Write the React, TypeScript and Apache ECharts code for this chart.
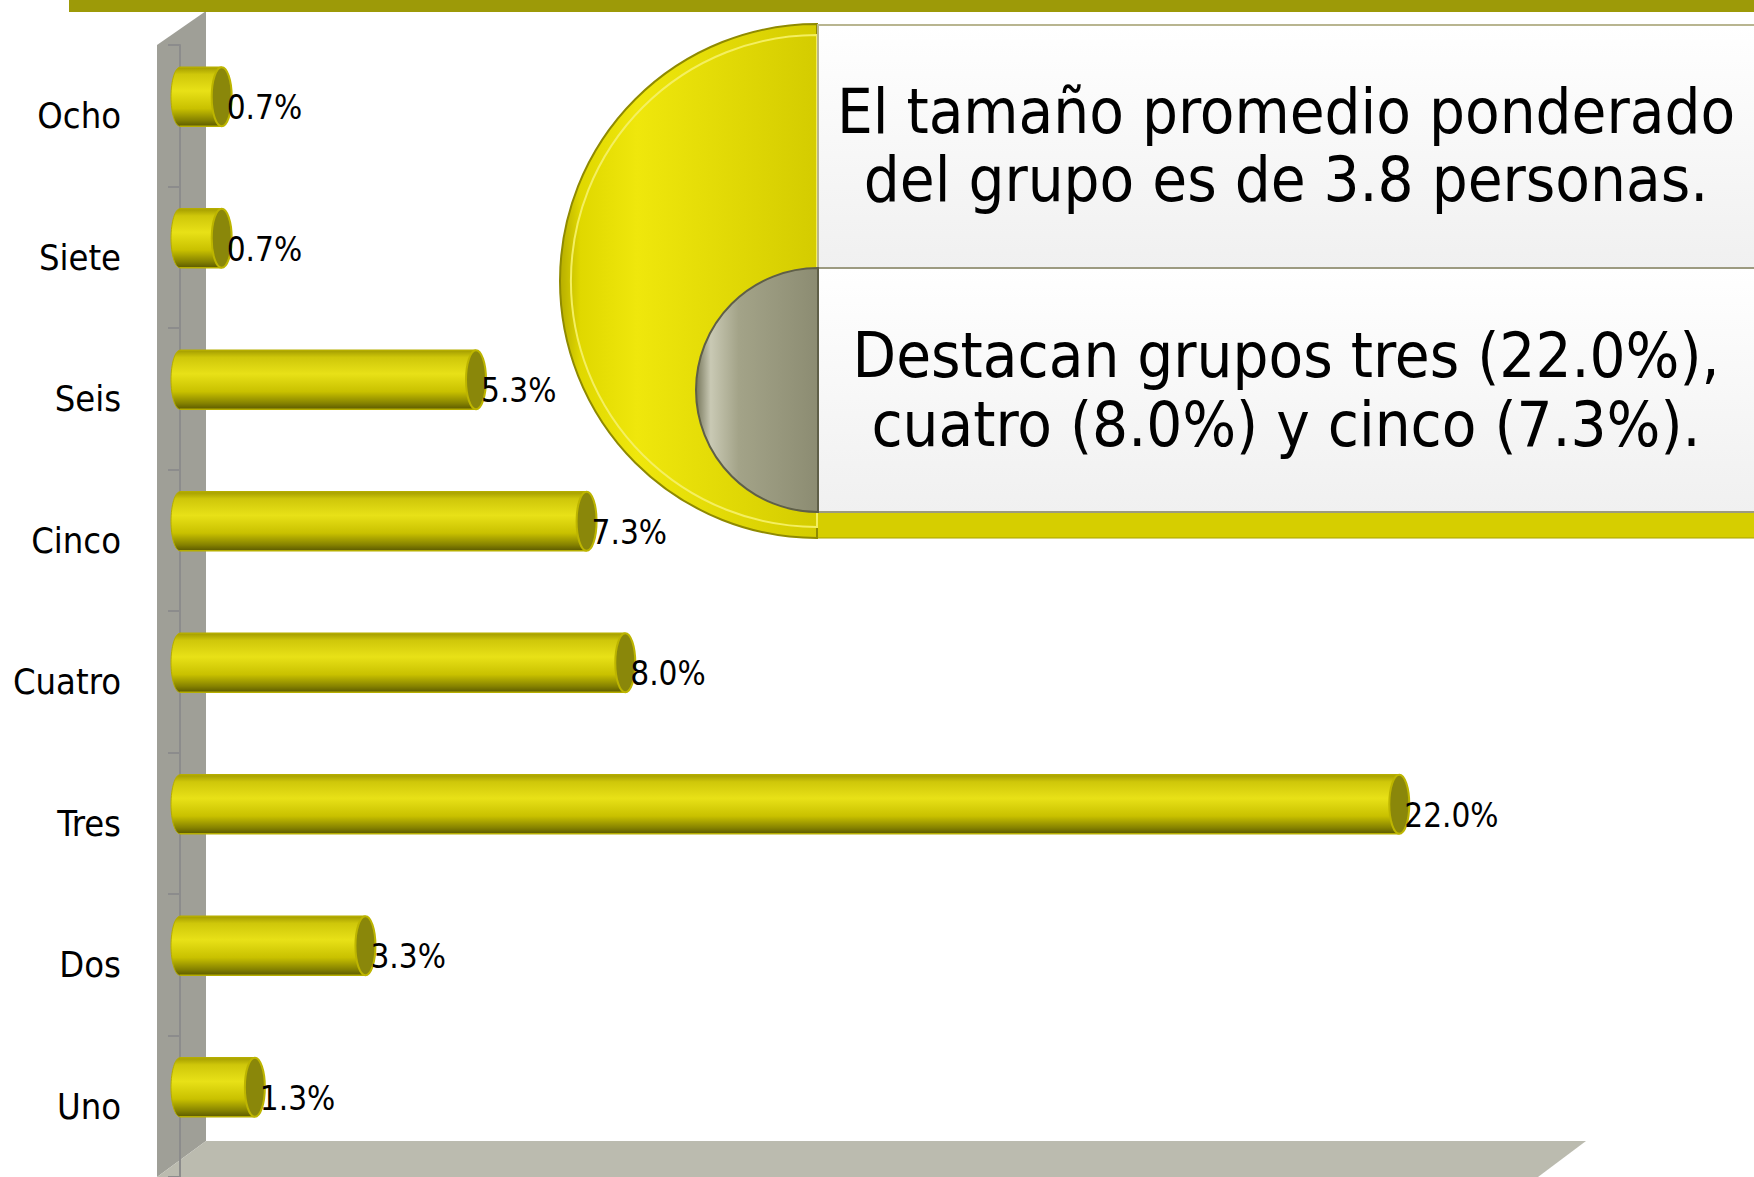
import React, { useEffect, useRef } from "react";
import * as echarts from "echarts";

const categories = ["Ocho", "Siete", "Seis", "Cinco", "Cuatro", "Tres", "Dos", "Uno"];
const values = [0.7, 0.7, 5.3, 7.3, 8.0, 22.0, 3.3, 1.3];
const noteTop = ["El tamaño promedio ponderado", "del grupo es de 3.8 personas."];
const noteBottom = ["Destacan grupos tres (22.0%),", "cuatro (8.0%) y cinco (7.3%)."];

const FONT = "'DejaVu Sans Condensed', 'DejaVu Sans', sans-serif";

export default function App() {
  const ref = useRef<HTMLDivElement>(null);
  useEffect(() => {
    document.body.style.margin = "0";
    const chart = echarts.init(ref.current!, null, { renderer: "svg" });
    const barGrad = () =>
      new echarts.graphic.LinearGradient(0, 0, 0, 1, [
        { offset: 0, color: "#a39c00" },
        { offset: 0.12, color: "#cfc70a" },
        { offset: 0.4, color: "#e8e117" },
        { offset: 0.7, color: "#c9c100" },
        { offset: 0.9, color: "#858200" },
        { offset: 1, color: "#5c5a00" },
      ]);
    const option: any = {
      animation: false,
      backgroundColor: "#ffffff",
      grid: { left: 180, top: 45, width: 1548, height: 1132, containLabel: false },
      xAxis: { type: "value", min: 0, max: 28, show: false },
      yAxis: {
        type: "category",
        inverse: true,
        data: categories,
        offset: 23,
        axisLine: { show: true, lineStyle: { color: "#8c8c8c", width: 2 } },
        axisTick: { show: true, length: 12, lineStyle: { color: "#8c8c8c", width: 2 } },
        axisLabel: { margin: 36, fontSize: 36, color: "#000", fontFamily: FONT, verticalAlign: "middle" },
        splitLine: { show: false },
      },
      graphic: [
        { type: "rect", shape: { x: 69, y: 0, width: 1685, height: 12 }, style: { fill: "#9d9a08" }, z: 1 },
        {
          type: "polygon",
          shape: { points: [[157, 45], [206, 11], [206, 1141], [157, 1177]] },
          style: { fill: "#9f9f97" },
          z: 0,
        },
        {
          type: "polygon",
          shape: { points: [[206, 1141], [1586, 1141], [1538, 1177], [157, 1177]] },
          style: { fill: "#bbbbaf" },
          z: 0,
        },
        {
          type: "rect",
          shape: { x: 817, y: 25, width: 940, height: 513 },
          style: { fill: "#d6ce00", stroke: "#a9a300", lineWidth: 1 },
          z: 5,
        },
        {
          type: "sector",
          shape: { cx: 817, cy: 281, r: 257, r0: 0, startAngle: Math.PI / 2, endAngle: (3 * Math.PI) / 2 },
          style: {
            fill: new echarts.graphic.LinearGradient(0, 0, 1, 0, [
              { offset: 0, color: "#b7ae00" },
              { offset: 0.08, color: "#e0d800" },
              { offset: 0.3, color: "#efe70c" },
              { offset: 1, color: "#d4cc00" },
            ]),
            stroke: "#8f8a00",
            lineWidth: 2,
          },
          z: 6,
        },
        {
          type: "sector",
          shape: { cx: 817, cy: 281, r: 246, r0: 0, startAngle: Math.PI / 2, endAngle: (3 * Math.PI) / 2 },
          style: { fill: "none", stroke: "#f4ef60", lineWidth: 2 },
          z: 6,
        },
        {
          type: "rect",
          shape: { x: 818, y: 25, width: 940, height: 243 },
          style: {
            fill: new echarts.graphic.LinearGradient(0, 0, 0, 1, [
              { offset: 0, color: "#ffffff" },
              { offset: 1, color: "#f0f0f0" },
            ]),
            stroke: "#b8b590",
            lineWidth: 2,
          },
          z: 7,
        },
        {
          type: "rect",
          shape: { x: 818, y: 268, width: 940, height: 244 },
          style: {
            fill: new echarts.graphic.LinearGradient(0, 0, 0, 1, [
              { offset: 0, color: "#ffffff" },
              { offset: 1, color: "#f0f0f0" },
            ]),
            stroke: "#9c9a80",
            lineWidth: 2,
          },
          z: 7,
        },
        {
          type: "sector",
          shape: { cx: 818, cy: 390, r: 122, r0: 0, startAngle: Math.PI / 2, endAngle: (3 * Math.PI) / 2 },
          style: {
            fill: new echarts.graphic.LinearGradient(0, 0, 1, 0, [
              { offset: 0, color: "#77775c" },
              { offset: 0.12, color: "#c9c9b4" },
              { offset: 0.35, color: "#a3a388" },
              { offset: 1, color: "#8c8c72" },
            ]),
            stroke: "#5f5f48",
            lineWidth: 2,
          },
          z: 8,
        },
        {
          type: "text",
          style: {
            text: noteTop.join("\n"),
            x: 1286,
            y: 145,
            align: "center",
            verticalAlign: "middle",
            fontSize: 63,
            lineHeight: 68,
            fontFamily: FONT,
            fill: "#000",
          },
          z: 9,
        },
        {
          type: "text",
          style: {
            text: noteBottom.join("\n"),
            x: 1286,
            y: 390,
            align: "center",
            verticalAlign: "middle",
            fontSize: 63,
            lineHeight: 69,
            fontFamily: FONT,
            fill: "#000",
          },
          z: 9,
        },
      ],
      series: [
        {
          type: "custom",
          z: 3,
          data: values.map((v, i) => [v, i]),
          encode: { x: 0, y: 1 },
          renderItem: (params: any, api: any) => {
            const v = api.value(0);
            const idx = api.value(1);
            const p0 = api.coord([0, idx]);
            const p1 = api.coord([v, idx]);
            const h = 59;
            const cy = p0[1] - 19;
            const x0 = p0[0];
            const x1 = p1[0] + 3;
            return {
              type: "group",
              children: [
                { type: "ellipse", shape: { cx: x0, cy, rx: 9, ry: h / 2 }, style: { fill: barGrad(), stroke: "#b5ad00", lineWidth: 1 } },
                { type: "rect", shape: { x: x0, y: cy - h / 2, width: x1 - x0, height: h }, style: { fill: barGrad() } },
                { type: "line", shape: { x1: x0, y1: cy - h / 2, x2: x1, y2: cy - h / 2 }, style: { stroke: "#b5ad00", lineWidth: 1.5 } },
                { type: "line", shape: { x1: x0, y1: cy + h / 2, x2: x1, y2: cy + h / 2 }, style: { stroke: "#b5ad00", lineWidth: 1.5 } },
                { type: "ellipse", shape: { cx: x1, cy, rx: 10, ry: h / 2 }, style: { fill: "#8a870a", stroke: "#bdb500", lineWidth: 2 } },
                {
                  type: "text",
                  style: {
                    text: v.toFixed(1) + "%",
                    x: x1 + 5,
                    y: cy + 11,
                    verticalAlign: "middle",
                    align: "left",
                    fontSize: 33,
                    fontFamily: FONT,
                    fill: "#000",
                  },
                },
              ],
            };
          },
        },
      ],
    };
    chart.setOption(option);
    return () => chart.dispose();
  }, []);
  return <div ref={ref} style={{ width: 1754, height: 1177 }} />;
}
